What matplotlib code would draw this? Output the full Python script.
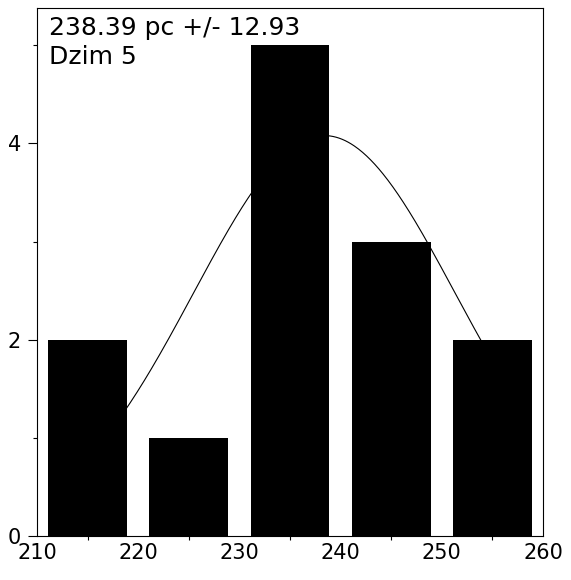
import numpy as np
import matplotlib
matplotlib.use("Agg")
import matplotlib.pyplot as plt
from matplotlib.ticker import FixedLocator, NullFormatter

# Data
bin_centers = [215, 225, 235, 245, 255]
counts = [2, 1, 5, 3, 2]
bar_width = 7.8
fit_mean = 238.39
fit_sigma = 12.93
fit_peak = 4.08
label_line1 = "238.39 pc +/- 12.93"
label_line2 = "Dzim 5"
x_major = [210, 220, 230, 240, 250, 260]
x_minor = [215, 225, 235, 245, 255]
y_major = [0, 2, 4]
y_minor = [1, 3, 5]

plt.rcParams['font.family'] = ['DejaVu Sans']

fig = plt.figure(figsize=(5.71, 5.80), dpi=100)
ax = fig.add_axes([37/571, 44/580, 506/571, 528/580])

ax.bar(bin_centers, counts, width=bar_width, color='black', zorder=3)

# Gaussian fit curve
xs = np.linspace(bin_centers[0], bin_centers[-1], 400)
ys = fit_peak * np.exp(-(xs - fit_mean) ** 2 / (2 * fit_sigma ** 2))
ax.plot(xs, ys, color='black', lw=0.8, zorder=2)

ax.set_xlim(210, 260)
ax.set_ylim(0, 5.38)

ax.xaxis.set_major_locator(FixedLocator(x_major))
ax.xaxis.set_minor_locator(FixedLocator(x_minor))
ax.yaxis.set_major_locator(FixedLocator(y_major))
ax.yaxis.set_minor_locator(FixedLocator(y_minor))
ax.xaxis.set_minor_formatter(NullFormatter())
ax.yaxis.set_minor_formatter(NullFormatter())

ax.tick_params(axis='x', which='major', length=0, pad=5, labelsize=15)
ax.tick_params(axis='x', which='minor', length=3, width=0.8, direction='out')
ax.tick_params(axis='y', which='major', length=6.5, width=0.8, pad=5, labelsize=15)
ax.tick_params(axis='y', which='minor', length=3, width=0.8)

for s in ax.spines.values():
    s.set_linewidth(0.8)
    s.set_color('black')

ax.text(12/506, (536-35)/528, label_line1, transform=ax.transAxes,
        fontsize=18, va='baseline', ha='left')
ax.text(12/506, (536-64)/528, label_line2, transform=ax.transAxes,
        fontsize=18, va='baseline', ha='left')

fig.savefig("out.png", dpi=100)
